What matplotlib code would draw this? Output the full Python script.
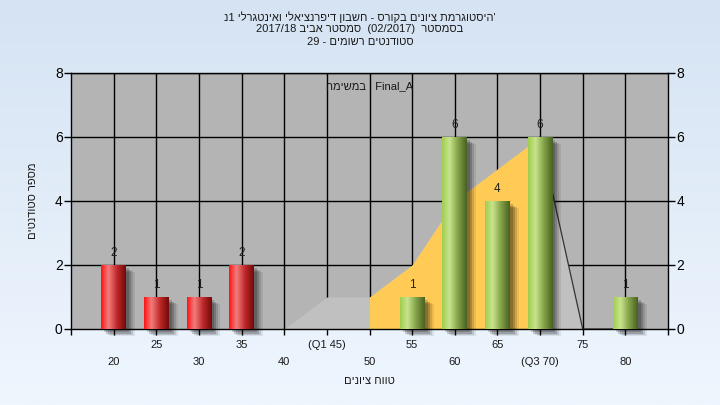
import re
import numpy as np
import matplotlib
matplotlib.use('Agg')
import matplotlib.pyplot as plt
from matplotlib.patches import Rectangle
import matplotlib.transforms as mtransforms

plt.rcParams['font.family'] = ['Liberation Sans', 'DejaVu Sans']

# ---------------- data ----------------
title_lines = ["'היסטוגרמת ציונים בקורס - חשבון דיפרנציאלי ואינטגרלי 1נ",
               "בסמסטר  (02/2017)  סמסטר אביב 2017/18",
               "סטודנטים רשומים - 29"]
y_label = "מספר סטודנטים"
x_label = "טווח ציונים"
task_label = "Final_A : במשימה"

bin_x = [20, 25, 30, 35, 40, 45, 50, 55, 60, 65, 70, 75, 80]
bin_counts = [2, 1, 1, 2, 0, 0, 0, 1, 6, 4, 6, 0, 1]
pass_mark = 55

tick_vals = [20, 25, 30, 35, 40, 45, 50, 55, 60, 65, 70, 75, 80]
tick_labels = ['20', '25', '30', '35', '40', '(Q1 45)', '50', '55', '60',
               '65', '(Q3 70)', '75', '80']

area_x = [40, 45, 50, 55, 60, 65, 70, 75, 80]
area_y = [0, 1, 1, 2, 4, 5, 6, 0, 0]
highlight_range = (50, 70)

y_ticks = [0, 2, 4, 6, 8]


def vis(s):
    """Simple right-to-left display ordering (matplotlib has no bidi)."""
    r = s[::-1]
    r = re.sub(r'[0-9A-Za-z_/.]+', lambda m: m.group(0)[::-1], r)
    return r.translate(str.maketrans('()', ')('))


# ---------------- figure ----------------
W, H, DPI = 7.2, 4.05, 100
fig = plt.figure(figsize=(W, H), dpi=DPI)

# gradient background
bg = fig.add_axes([0, 0, 1, 1], zorder=-10)
top = np.array([213, 227, 243]) / 255
bot = np.array([239, 246, 254]) / 255
t = np.linspace(0, 1, 256)[:, None]
grad = top[None, :] * (1 - t) + bot[None, :] * t
bg.imshow(grad[:, None, :], aspect='auto', extent=[0, 1, 0, 1])
bg.set_axis_off()

L, R, B, T = 71 / 720, 668 / 720, 1 - 329 / 405, 1 - 73 / 405
ax = fig.add_axes([L, B, R - L, T - B])
ax.set_facecolor('#b4b4b4')

# grid
for yv in y_ticks[1:]:
    ax.axhline(yv, color='black', lw=1.0, zorder=1)
for xv in tick_vals:
    ax.axvline(xv, color='black', lw=1.0, zorder=1)

# area
ax.fill_between(area_x, area_y, 0, color='#c0c0c0', lw=0, zorder=2)
ax_arr = np.array(area_x)
ay_arr = np.array(area_y)
m = (ax_arr >= highlight_range[0]) & (ax_arr <= highlight_range[1])
ax.fill_between(ax_arr[m], ay_arr[m], 0, color='#ffcb55', lw=0, zorder=2.1)
m2 = ax_arr >= highlight_range[1]
ax.plot(ax_arr[m2], ay_arr[m2], color='#333333', lw=0.9, zorder=2.2,
        clip_on=False)

# bars
width = 2.9


def make_grad(stops):
    pos = np.array([s[0] for s in stops])
    cols = np.array([s[1] for s in stops]) / 255.0
    xs = np.linspace(0, 1, 64)
    img = np.stack([np.interp(xs, pos, cols[:, c]) for c in range(3)], axis=-1)
    return img[None, :, :]


red_grad = make_grad([(0.0, (255, 20, 20)), (0.3, (242, 125, 125)),
                      (0.65, (190, 40, 40)), (1.0, (115, 10, 10))])
green_grad = make_grad([(0.0, (160, 205, 80)), (0.3, (200, 228, 140)),
                        (0.65, (130, 160, 70)), (1.0, (72, 98, 34))])

for xv, cnt in zip(bin_x, bin_counts):
    if cnt <= 0:
        continue
    x0 = xv - width / 2
    # shadow
    for dx, dy, a in [(3, 3, 0.18), (5, 5, 0.18), (7, 6, 0.12), (9, 7, 0.08)]:
        tr = ax.transData + mtransforms.ScaledTranslation(dx / DPI, -dy / DPI, fig.dpi_scale_trans)
        ax.add_patch(Rectangle((x0, 0), width, cnt, transform=tr, facecolor='black',
                               alpha=a, lw=0, zorder=2.5, clip_on=False))
    g = red_grad if xv < pass_mark else green_grad
    ax.imshow(g, extent=[x0, x0 + width, 0, cnt], aspect='auto', zorder=3,
              interpolation='bilinear')
    ax.annotate(str(cnt), (xv, cnt), xytext=(0, 12), textcoords='offset pixels',
                ha='center', va='center', fontsize=8.5, color='#202020', zorder=4)

ax.set_xlim(15, 85)
ax.set_ylim(0, 8)

for s in ax.spines.values():
    s.set_color('black')
    s.set_linewidth(1.0)

ax.set_yticks(y_ticks)
ax.set_yticklabels([str(v) for v in y_ticks])
ax.tick_params(axis='y', direction='out', length=5, width=1, labelsize=10,
               right=True, labelright=True, pad=1, colors='black')
ax.set_xticks([15] + tick_vals + [85])
ax.set_xticklabels([''] * (len(tick_vals) + 2))
ax.tick_params(axis='x', direction='out', length=4, width=1)

btrans = mtransforms.blended_transform_factory(ax.transData, fig.transFigure)
for i, (xv, lab) in enumerate(zip(tick_vals, tick_labels)):
    yy = 1 - (362 / 405 if i % 2 == 0 else 345 / 405)
    ax.text(xv, yy, lab, transform=btrans, ha='center', va='center',
            fontsize=8, color='#1a1a1a')

fig.text((L + R) / 2, 1 - 381 / 405, vis(x_label), ha='center', va='center',
         fontsize=8, color='#1a1a1a')
fig.text(33 / 720, (B + T) / 2, vis(y_label), rotation=90, ha='center', va='center',
         fontsize=8, color='#1a1a1a')
ax.text(0.5, 0.949, vis(task_label), transform=ax.transAxes, ha='center', va='center',
        fontsize=8, color='#1a1a1a', zorder=5)

for yy, line in zip([17, 29, 42], title_lines):
    fig.text(0.5, 1 - yy / 405, vis(line), ha='center', va='center', fontsize=8,
             color='#1a1a1a')

fig.savefig('out.png', dpi=DPI)
